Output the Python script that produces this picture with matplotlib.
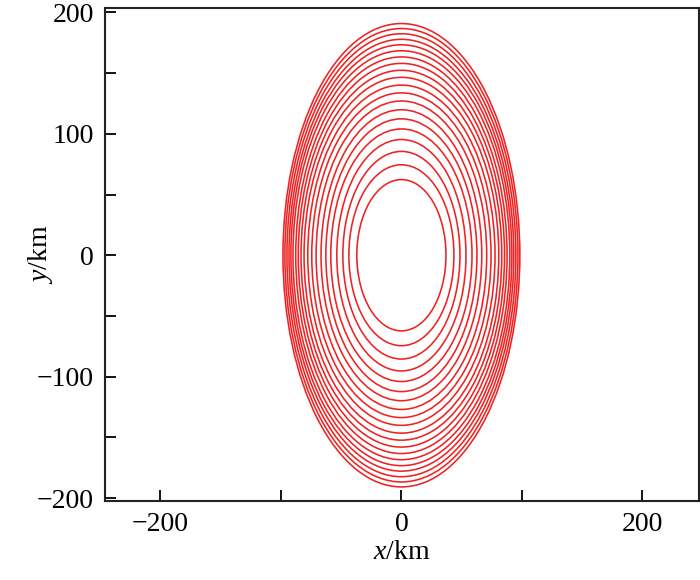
import matplotlib
matplotlib.use("Agg")
import matplotlib.pyplot as plt
from matplotlib.patches import Ellipse
from matplotlib.ticker import MultipleLocator

# semi-axes of the 20 contour ellipses (km), inner -> outer
semi_x = [37, 43.6, 48.6, 53.6, 58.6, 62.7, 66.7, 70.8, 74.4, 77.7,
          80.8, 83.3, 85.6, 87.7, 90.0, 91.7, 93.3, 95.0, 96.7, 98.3]
semi_y = [62.3, 74.5, 85.5, 95.3, 104.0, 112.3, 119.8, 127.0, 133.7, 140.1,
          146.5, 152.3, 158.0, 163.3, 168.4, 173.3, 177.8, 182.4, 186.7, 190.8]

plt.rcParams['font.family'] = ['Liberation Serif', 'DejaVu Serif']
plt.rcParams['mathtext.fontset'] = 'custom'
plt.rcParams['mathtext.rm'] = 'Liberation Serif'
plt.rcParams['mathtext.it'] = 'Liberation Serif:italic'

fig = plt.figure(figsize=(7, 5.8), dpi=100)
ax = fig.add_axes([0.15, 0.136, 0.8486, 0.85])

for a, b in zip(semi_x, semi_y):
    ax.add_patch(Ellipse((0, 0), 2 * a, 2 * b, fill=False,
                         edgecolor='#ee2222', lw=1.15))

ax.set_xlim(-246, 247)
ax.set_ylim(-202.5, 203.5)
ax.xaxis.set_major_locator(MultipleLocator(200))
ax.xaxis.set_minor_locator(MultipleLocator(100))
ax.yaxis.set_major_locator(MultipleLocator(100))
ax.yaxis.set_minor_locator(MultipleLocator(50))
ax.tick_params(which='both', direction='in', length=8, width=1.3,
               top=False, right=False, labelsize=20, pad=8)
for s in ax.spines.values():
    s.set_linewidth(1.5)
    s.set_color('#222222')

ax.set_xlabel('$x$/km', fontsize=20, labelpad=2)
ax.set_ylabel('$y$/km', fontsize=20)
ax.yaxis.set_label_coords(-0.084, 0.5)

fig.savefig('out.png', dpi=100)
